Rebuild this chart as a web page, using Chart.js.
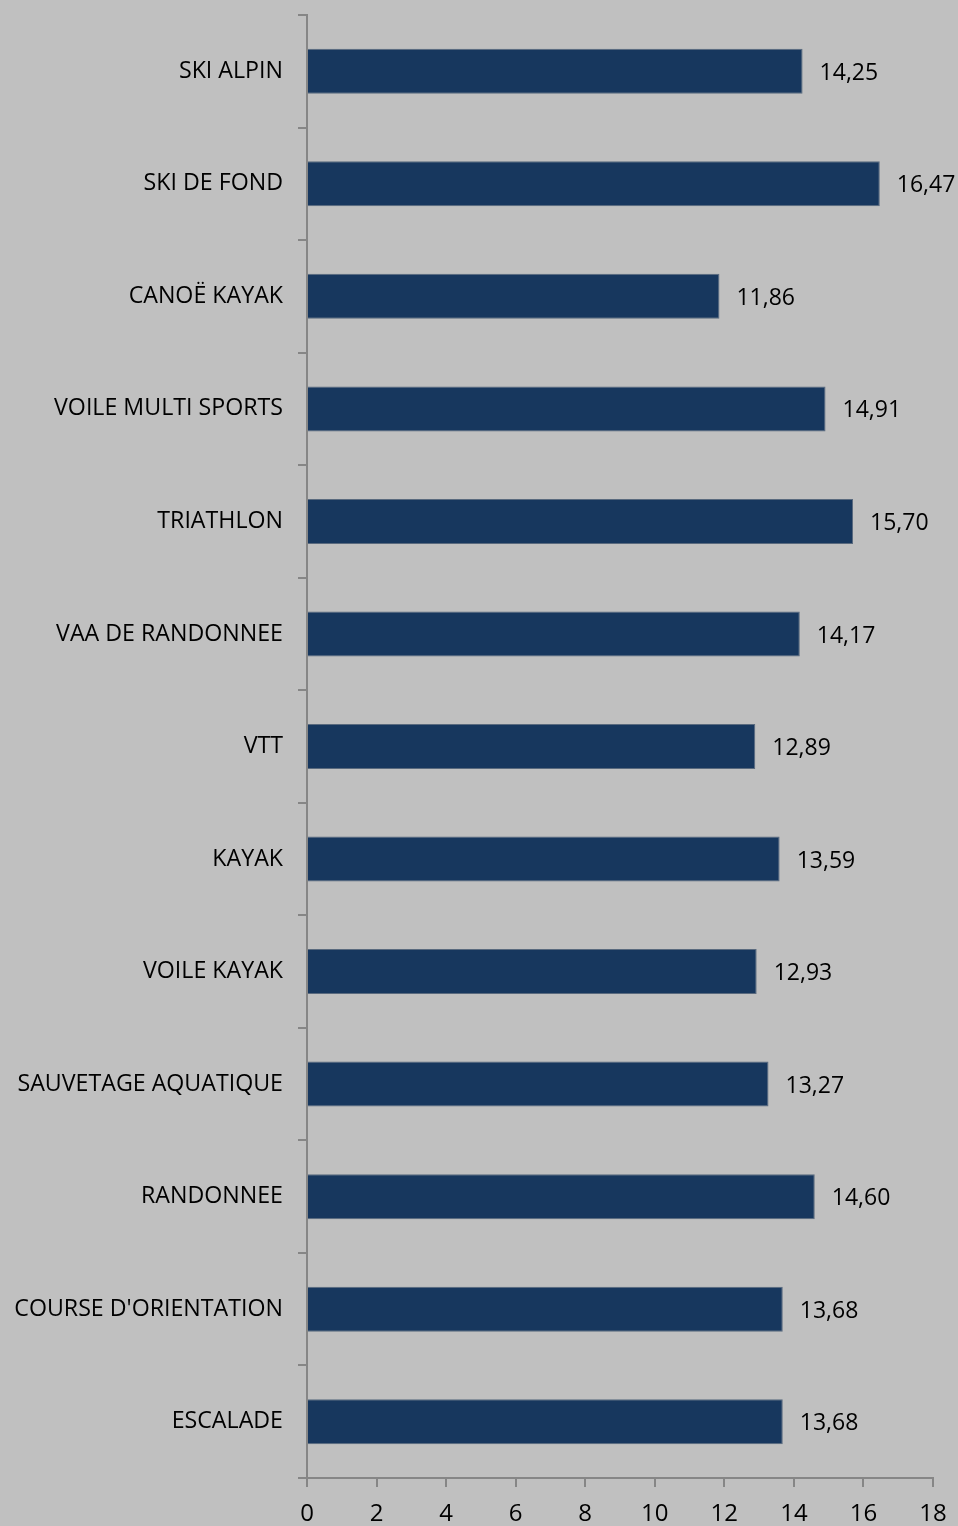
<!DOCTYPE html>
<html>
<head>
<meta charset="utf-8">
<script src="https://cdn.jsdelivr.net/npm/chart.js@4.4.0/dist/chart.umd.min.js"></script>
<style>
  html, body { margin: 0; padding: 0; background: #c0c0c0; }
  #wrap { width: 958px; height: 1526px; position: relative; }
</style>
</head>
<body>
<div id="wrap"><canvas id="chart"></canvas></div>
<script>
// ---- Data ----
const categories = [
    'SKI ALPIN', 'SKI DE FOND', 'CANOË KAYAK', 'VOILE MULTI SPORTS', 'TRIATHLON',
    'VAA DE RANDONNEE', 'VTT', 'KAYAK', 'VOILE KAYAK', 'SAUVETAGE AQUATIQUE',
    'RANDONNEE', "COURSE D'ORIENTATION", 'ESCALADE'
];
const values = [14.25, 16.47, 11.86, 14.91, 15.70, 14.17, 12.89, 13.59, 12.93, 13.27, 14.60, 13.68, 13.68];
const xTicks = [0, 2, 4, 6, 8, 10, 12, 14, 16, 18];

const FONT = '"Open Sans", "Noto Sans", sans-serif';
const axisGray = '#868686';

// value labels at end of bars
const valueLabels = {
    id: 'valueLabels',
    afterDatasetsDraw(chart) {
        const ctx = chart.ctx;
        const meta = chart.getDatasetMeta(0);
        ctx.save();
        ctx.font = '23px ' + FONT;
        ctx.fillStyle = '#000';
        ctx.textBaseline = 'middle';
        ctx.textAlign = 'left';
        meta.data.forEach((bar, i) => {
            const txt = values[i].toFixed(2).replace('.', ',');
            ctx.fillText(txt, bar.x + 17, bar.y + 2);
        });
        ctx.restore();
    }
};

new Chart(document.getElementById('chart'), {
    type: 'bar',
    data: {
        labels: categories,
        datasets: [{
            data: values,
            backgroundColor: '#17375e',
            borderColor: '#5a6a7e',
            borderWidth: 1,
            categoryPercentage: 1,
            barPercentage: 0.4
        }]
    },
    options: {
        indexAxis: 'y',
        responsive: true,
        maintainAspectRatio: false,
        animation: false,
        layout: { padding: { top: 15, right: 25, left: 0, bottom: 0 } },
        plugins: { legend: { display: false }, tooltip: { enabled: false } },
        scales: {
            x: {
                min: 0, max: 18,
                afterBuildTicks: (axis) => { axis.ticks = xTicks.map(v => ({ value: v })); },
                border: { color: axisGray, width: 2 },
                grid: { drawOnChartArea: false, drawTicks: true, tickLength: 9, color: axisGray, lineWidth: 2 },
                ticks: { color: '#000', font: { family: FONT, size: 24 }, padding: 13, maxRotation: 0 },
                afterFit: (axis) => { axis.height = 48; axis.paddingLeft = 0; axis.paddingRight = 0; }
            },
            y: {
                border: { color: axisGray, width: 2 },
                grid: { drawOnChartArea: false, drawTicks: true, tickLength: 9, color: axisGray, lineWidth: 2, offset: true },
                ticks: { color: '#000', font: { family: FONT, size: 23.2 }, padding: 15 },
                afterFit: (axis) => { axis.width = 307; axis.paddingTop = 0; axis.paddingBottom = 0; }
            }
        }
    },
    plugins: [valueLabels]
});
</script>
</body>
</html>
